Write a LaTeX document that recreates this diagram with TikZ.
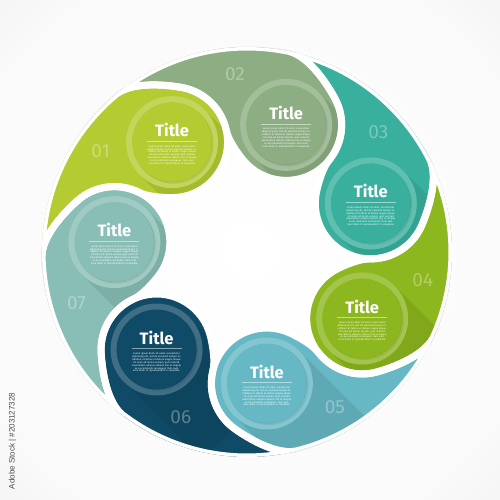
\documentclass[tikz,border=0pt]{standalone}
\usepackage{fontspec}
\setmainfont{Fira Sans}
\newfontfamily\wmfont{Liberation Sans}
\usetikzlibrary{calc}
\definecolor{cA}{HTML}{B4CB32}
\definecolor{cB}{HTML}{8DAE83}
\definecolor{cC}{HTML}{38B09D}
\definecolor{cD}{HTML}{8DB71E}
\definecolor{cE}{HTML}{66B8C4}
\definecolor{cF}{HTML}{0F4A67}
\definecolor{cG}{HTML}{88BEB5}
\pgfdeclareradialshading{bgshade}{\pgfpoint{0bp}{0bp}}{color(0bp)=(white); color(30bp)=(white!98!black); color(50bp)=(white!90!black)}
\newcommand{\segpath}{(5:205) arc[start angle=5,end angle=56.43,radius=205]
  .. controls (50.43:204.5) and (42.29:184.44) .. (38.60:176.65)
  arc[start angle=6.43,end angle=-60.57,radius=55.5]
  .. controls (101.5,50.7) and (92.6,39.3) .. (87.0,31.0)
  arc[start angle=146,end angle=315,radius=55.5]
  .. controls (182.1,-29.3) and (-1:204.5) .. (5:205) -- cycle}
\newcommand{\loremtxt}{Lorem ipsum dolor sit amet, consectetur adipiscing elit, sed do eiusmod tempor incididunt ut labore et dolore magna aliqua. Ut enim ad minim veniam, quis nostrud exercitation ullamco laboris nisi ut aliquip ex ea commodo consequat. Duis aute irure dolor in reprehenderit in voluptate.}
\tikzset{
  ttl/.style={text=white,font=\bfseries\fontsize{16.5}{16.5}\selectfont,inner sep=0pt},
  lorem/.style={text=white,align=center,text width=50pt,inner sep=0pt,font=\fontsize{2.5}{2.9}\selectfont},
  numlbl/.style={text=white,text opacity=.32,font=\fontsize{19}{19}\selectfont,inner sep=0pt},
  gapline/.style={white,line width=7pt,line join=round}
}
\begin{document}
\begin{tikzpicture}[x=1pt,y=1pt]
\useasboundingbox (-247,-248) rectangle (253,252);
\shade[shading=bgshade] (-247,-248) rectangle (253,252);
% soft drop shadow
\foreach \a in {124.3,72.87,21.44,-29.99,-81.41,-132.84,175.73}
  \fill[black,opacity=.05,rotate=\a] [xshift=1.5pt,yshift=-2.5pt] \segpath;
% segments
\foreach \a/\col in {124.3/cA,72.87/cB,21.44/cC,-29.99/cD,-81.41/cE,-132.84/cF,175.73/cG}{
  \fill[\col,rotate=\a] \segpath;
  \begin{scope}
    \clip[rotate=\a] \segpath;
    \coordinate (s) at (\a:133);
    \fill[black,opacity=.08] ($(s)+(45:46)$) -- ($(s)+(-135:46)$) -- ($(s)+(-135:46)+(-45:110)$) -- ($(s)+(45:46)+(-45:110)$) -- cycle;
  \end{scope}
}
% white gaps
\begin{scope}
  \clip (0,0) circle (205);
  \foreach \a in {124.3,72.87,21.44,-29.99,-81.41,-132.84,175.73}
    \draw[gapline,rotate=\a] \segpath;
\end{scope}
% discs
\foreach \a/\col/\n in {124.3/cA/01,72.87/cB/02,21.44/cC/03,-29.99/cD/04,-81.41/cE/05,-132.84/cF/06,175.73/cG/07}{
  \coordinate (c\n) at (\a:133);
  \fill[\col] (c\n) circle (46);
  \fill[white,opacity=.2,even odd rule] (c\n) circle (46) (c\n) circle (40);
  \fill[black,opacity=.08] ($(c\n)+(1.5,-1.5)$) circle (40);
  \fill[\col] (c\n) circle (39.5);
  \node[ttl] (t\n) at ($(c\n)+(0,12)$) {Title};
  \draw[white,opacity=.5,line width=.5pt] ($(c\n)+(-25,1)$) -- ($(c\n)+(25,1)$);
  \node[lorem] (l\n) at ($(c\n)+(0,-13)$) {\loremtxt};
  \node[numlbl] (n\n) at (\a+21:178) {\n};
}
\node[rotate=90,text=black!70,font=\wmfont\fontsize{8}{8}\selectfont,inner sep=0pt] (wm) at (-234.5,-189) {Adobe Stock | \#203127328};
\end{tikzpicture}
\end{document}
